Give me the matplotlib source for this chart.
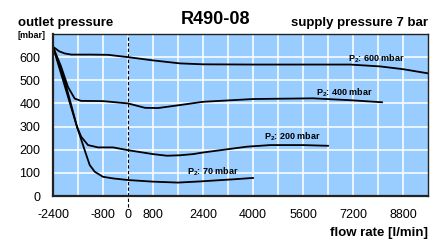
import numpy as np
import matplotlib
matplotlib.use("Agg")
import matplotlib.pyplot as plt

plt.rcParams['font.family'] = ['Liberation Sans', 'DejaVu Sans']
plt.rcParams['mathtext.fontset'] = 'custom'
plt.rcParams['mathtext.rm'] = 'Liberation Sans:bold'
plt.rcParams['mathtext.bf'] = 'Liberation Sans:bold'
plt.rcParams['axes.unicode_minus'] = False

# curve data (flow l/min, outlet pressure mbar)
x600 = [-2400, -2200, -2026, -1814, -1200, -640, 0, 800, 1664, 2400, 4000, 6144, 7104, 8064, 8800, 9600]
y600 = [645, 625, 616, 611, 611, 610, 600, 586, 573, 569, 568, 568, 568, 560, 548, 530]

x400 = [-2400, -2144, -1920, -1706, -1504, -800, 0, 544, 960, 1664, 2400, 4000, 5920, 7104, 8128]
y400 = [645, 560, 471, 421, 411, 410, 400, 381, 380, 393, 407, 419, 422, 414, 405]

x200 = [-2400, -2000, -1632, -1498, -1280, -960, -480, 0, 800, 1248, 1664, 2080, 2400, 3800, 4544, 5600, 6400]
y200 = [645, 465, 299, 256, 220, 210, 210, 198, 181, 174, 176, 181, 188, 213, 220, 220, 217]

x70 = [-2400, -2000, -1632, -1386, -1226, -1066, -800, -480, 0, 800, 1600, 2304, 3360, 4000]
y70 = [645, 485, 299, 198, 134, 105, 83, 76, 69, 62, 58, 63, 72, 78]

curves = [(x600, y600), (x400, y400), (x200, y200), (x70, y70)]
labels = [r'P$_2$: 600 mbar', r'P$_2$: 400 mbar', r'P$_2$: 200 mbar', r'P$_2$: 70 mbar']
label_pos = [(7936, 595), (6928, 447), (5264, 255), (2704, 105)]

xticks = [-2400, -800, 0, 800, 2400, 4000, 5600, 7200, 8800]
yticks = [0, 100, 200, 300, 400, 500, 600]

fig = plt.figure(figsize=(4.37, 2.49), dpi=100)
ax = fig.add_axes([53/437, 53/249, 375/437, 162/249])
ax.set_facecolor('#99ccff')

ax.set_xlim(-2400, 9600)
ax.set_ylim(0, 700)

# white grid every 800 l/min and 100 mbar
for gx in np.arange(-1600, 9600, 800):
    ax.axvline(gx, color='white', linewidth=1.1, zorder=0.5)
for gy in np.arange(100, 700, 100):
    ax.axhline(gy, color='white', linewidth=1.1, zorder=0.5)

ax.set_xticks(xticks)
ax.set_yticks(yticks)
ax.tick_params(which='both', length=0)
ax.tick_params(axis='x', labelsize=9, pad=9)
ax.tick_params(axis='y', labelsize=9, pad=9)

for s in ['left', 'bottom']:
    ax.spines[s].set_linewidth(1.6)
    ax.spines[s].set_color('#222222')
for s in ['top', 'right']:
    ax.spines[s].set_linewidth(1.0)
    ax.spines[s].set_color('#222222')

ax.axvline(0, ymin=-0.07, ymax=1, color='black', linestyle=(0, (3, 2)), linewidth=0.8, clip_on=False)

for (xs, ys) in curves:
    ax.plot(xs, ys, color='black', linewidth=1.3, solid_joinstyle='round')

for lab, (lx, ly) in zip(labels, label_pos):
    ax.text(lx, ly, lab, fontsize=6.5, fontweight='bold', ha='center', va='center')

fig.text(18/437, 1 - 23/249, 'outlet pressure', fontsize=9.5, fontweight='bold', ha='left', va='center')
fig.text(215/437, 1 - 20/249, 'R490-08', fontsize=13, fontweight='bold', ha='center', va='center')
fig.text(428/437, 1 - 23/249, 'supply pressure 7 bar', fontsize=9.5, fontweight='bold', ha='right', va='center')
fig.text(17/437, 1 - 35/249, '[mbar]', fontsize=6.5, fontweight='bold', ha='left', va='center')
fig.text(428/437, 1 - 233/249, 'flow rate [l/min]', fontsize=9.5, fontweight='bold', ha='right', va='center')

fig.savefig('out.png', dpi=100)
